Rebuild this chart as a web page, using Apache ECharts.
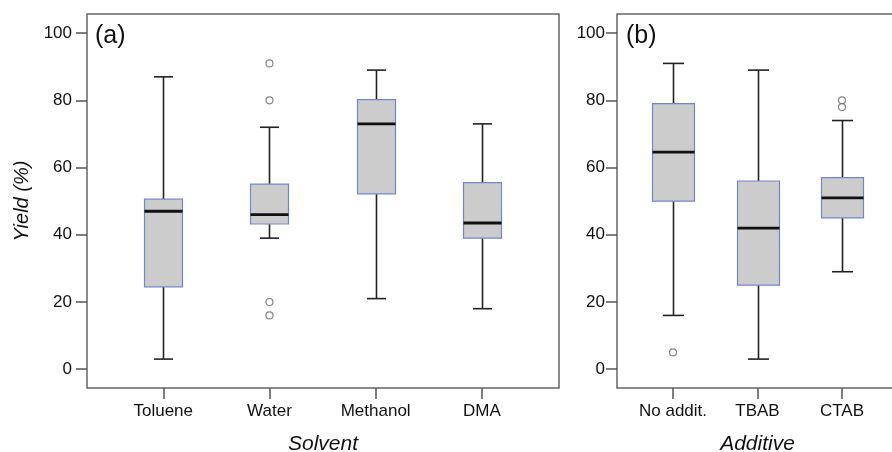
<!DOCTYPE html>
<html><head><meta charset="utf-8">
<script src="https://cdn.jsdelivr.net/npm/echarts@6/dist/echarts.min.js"></script>
<style>html,body{margin:0;padding:0;background:#fff}#c{width:892px;height:452px}</style>
</head><body><div id="c"></div>
<script>
// ---- data ----
const yTicks = [0, 20, 40, 60, 80, 100];

const solventCats = ['Toluene', 'Water', 'Methanol', 'DMA'];
const solventMin = [3, 39, 21, 18];
const solventQ1 = [24.5, 43.2, 52.2, 39];
const solventMed = [47, 46, 73, 43.5];
const solventQ3 = [50.6, 55.1, 80.2, 55.5];
const solventMax = [87, 72, 89, 73];
const solventOutCat = ['Water', 'Water', 'Water', 'Water'];
const solventOutVal = [91, 80, 20, 16];

const additiveCats = ['No addit.', 'TBAB', 'CTAB'];
const additiveMin = [16, 3, 29];
const additiveQ1 = [50, 25, 45];
const additiveMed = [64.6, 42, 51];
const additiveQ3 = [79, 56, 57];
const additiveMax = [91, 89, 74];
const additiveOutCat = ['No addit.', 'CTAB', 'CTAB'];
const additiveOutVal = [5, 80, 78];

// ---- build ----
const FONT = '"Liberation Sans", Arial, sans-serif';
function boxData(cats, mn, q1, md, q3, mx) {
  return cats.map((c, i) => [i, mn[i], q1[i], md[i], q3[i], mx[i]]);
}
function outData(cats, oc, ov) {
  return oc.map((c, i) => [cats.indexOf(c), ov[i]]);
}
function makeRender(boxW, capW) {
  return function (params, api) {
    const x = api.value(0);
    const pMin = api.coord([x, api.value(1)]);
    const pQ1 = api.coord([x, api.value(2)]);
    const pMed = api.coord([x, api.value(3)]);
    const pQ3 = api.coord([x, api.value(4)]);
    const pMax = api.coord([x, api.value(5)]);
    const cx = Math.round(pMed[0]) + 0.5;
    const wStyle = { stroke: '#222', lineWidth: 1.6 };
    return {
      type: 'group',
      children: [
        { type: 'line', shape: { x1: cx, y1: pMax[1], x2: cx, y2: pQ3[1] }, style: wStyle },
        { type: 'line', shape: { x1: cx, y1: pQ1[1], x2: cx, y2: pMin[1] }, style: wStyle },
        { type: 'line', shape: { x1: cx - capW / 2, y1: pMax[1], x2: cx + capW / 2, y2: pMax[1] }, style: wStyle },
        { type: 'line', shape: { x1: cx - capW / 2, y1: pMin[1], x2: cx + capW / 2, y2: pMin[1] }, style: wStyle },
        { type: 'rect', shape: { x: cx - boxW / 2, y: pQ3[1], width: boxW, height: pQ1[1] - pQ3[1] },
          style: { fill: '#cccccc', stroke: '#7485cf', lineWidth: 1.2 } },
        { type: 'line', shape: { x1: cx - boxW / 2, y1: pMed[1], x2: cx + boxW / 2, y2: pMed[1] },
          style: { stroke: '#111', lineWidth: 2.8 } }
      ]
    };
  };
}

const tickStyle = { show: true, length: 11, lineStyle: { color: '#555', width: 1.5 } };
function xAxis(idx, cats, min, max, name) {
  return {
    type: 'value', gridIndex: idx, min: min, max: max, position: 'bottom',
    axisLine: { show: false, onZero: false }, splitLine: { show: false },
    axisTick: Object.assign({ customValues: cats.map((c, i) => i) }, tickStyle),
    axisLabel: { customValues: cats.map((c, i) => i), formatter: v => cats[Math.round(v)] || '',
      fontFamily: FONT, fontSize: 17, color: '#111', margin: 15 },
    name: name, nameLocation: 'middle', nameGap: 46,
    nameTextStyle: { fontFamily: FONT, fontSize: 21, fontStyle: 'italic', color: '#111' }
  };
}
function yAxis(idx, margin, name) {
  return {
    type: 'value', gridIndex: idx, min: -5.6, max: 105.7, position: 'left',
    axisLine: { show: false, onZero: false }, splitLine: { show: false },
    axisTick: Object.assign({ customValues: yTicks }, tickStyle),
    axisLabel: { customValues: yTicks, fontFamily: FONT, fontSize: 17, color: '#111', margin: margin },
    name: name || '', nameLocation: 'middle', nameGap: 52, nameRotate: 90,
    nameTextStyle: { fontFamily: FONT, fontSize: 20, fontStyle: 'italic', color: '#111' }
  };
}

const gridBase = { top: 14, height: 374, show: true, borderColor: '#666', borderWidth: 1.5,
  backgroundColor: 'transparent', containLabel: false, outerBoundsMode: 'none' };
const option = {
  animation: false,
  backgroundColor: '#fff',
  grid: [
    Object.assign({ left: 87, width: 472 }, gridBase),
    Object.assign({ left: 617, width: 281 }, gridBase)
  ],
  xAxis: [
    xAxis(0, solventCats, -0.718, 3.726, 'Solvent'),
    xAxis(1, additiveCats, -0.663, 2.663, 'Additive')
  ],
  yAxis: [yAxis(0, 15, 'Yield (%)'), yAxis(1, 12, '')],
  graphic: [
    { type: 'text', left: 95, top: 24, style: { text: '(a)', font: '25px ' + FONT, fill: '#111' } },
    { type: 'text', left: 626, top: 24, style: { text: '(b)', font: '25px ' + FONT, fill: '#111' } }
  ],
  series: [
    { type: 'custom', xAxisIndex: 0, yAxisIndex: 0, renderItem: makeRender(38, 19),
      encode: { x: 0, y: [1, 2, 3, 4, 5] },
      data: boxData(solventCats, solventMin, solventQ1, solventMed, solventQ3, solventMax) },
    { type: 'custom', xAxisIndex: 1, yAxisIndex: 1, renderItem: makeRender(42, 21),
      encode: { x: 0, y: [1, 2, 3, 4, 5] },
      data: boxData(additiveCats, additiveMin, additiveQ1, additiveMed, additiveQ3, additiveMax) },
    { type: 'scatter', xAxisIndex: 0, yAxisIndex: 0, symbol: 'circle', symbolSize: 7,
      itemStyle: { color: '#fff', borderColor: '#666', borderWidth: 1.2 },
      data: outData(solventCats, solventOutCat, solventOutVal) },
    { type: 'scatter', xAxisIndex: 1, yAxisIndex: 1, symbol: 'circle', symbolSize: 7,
      itemStyle: { color: '#fff', borderColor: '#666', borderWidth: 1.2 },
      data: outData(additiveCats, additiveOutCat, additiveOutVal) }
  ]
};
const chart = echarts.init(document.getElementById('c'), null, { renderer: 'canvas' });
chart.setOption(option);
</script></body></html>
